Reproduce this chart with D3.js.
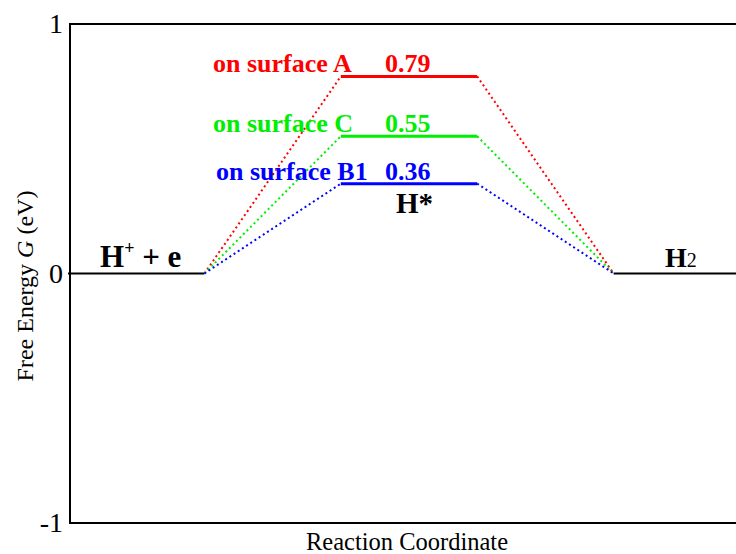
<!DOCTYPE html>
<html>
<head>
<meta charset="utf-8">
<script src="https://d3js.org/d3.v7.min.js"></script>
<style>
  body { margin: 0; background: #fff; }
  text { font-family: "Liberation Serif", "Times New Roman", serif; }
</style>
</head>
<body>
<script>
// reaction steps and energies (eV)
const steps = ["H+ + e", "H*", "H2"];
const surfaces = ["on surface A", "on surface C", "on surface B1"];
const hEnergies = [0.79, 0.55, 0.36];
const yTicks = [-1, 0, 1];
const colors = ["#ff0000", "#00ee00", "#0000ff"];

const W = 736, H = 554;
const margin = { top: 24, right: -2, bottom: 31, left: 70 };

const svg = d3.select("body").append("svg")
    .attr("width", W)
    .attr("height", H);

// x in "level slots": each level is one unit wide, gaps one unit
const x = d3.scaleLinear().domain([0, 5]).range([68, 750]);
const y = d3.scaleLinear().domain([-1, 1]).range([H - margin.bottom, margin.top]);

// frame (top, left, bottom)
svg.append("path")
    .attr("d", `M${W + 5},${y(1)}H${margin.left}V${y(-1)}H${W + 5}`)
    .attr("fill", "none")
    .attr("stroke", "#000")
    .attr("stroke-width", 2);

// y tick labels
svg.selectAll(".ytick")
    .data(yTicks)
    .join("text")
    .attr("class", "ytick")
    .attr("x", margin.left - 7)
    .attr("y", d => y(d) + 9)
    .attr("text-anchor", "end")
    .attr("font-size", 28)
    .text(d => d);

// axis titles
svg.append("text")
    .attr("x", 407)
    .attr("y", 550)
    .attr("text-anchor", "middle")
    .attr("font-size", 24.5)
    .text("Reaction Coordinate");

const yl = svg.append("text")
    .attr("transform", "translate(33,286) rotate(-90)")
    .attr("text-anchor", "middle")
    .attr("font-size", 24);
yl.append("tspan").text("Free Energy ");
yl.append("tspan").attr("font-style", "italic").text("G");
yl.append("tspan").text(" (eV)");

// initial and final levels (0 eV)
const ends = [[0, 1], [4, 5.2]];
svg.selectAll(".endlvl")
    .data(ends)
    .join("line")
    .attr("class", "endlvl")
    .attr("x1", d => x(d[0]))
    .attr("x2", d => x(d[1]))
    .attr("y1", y(0))
    .attr("y2", y(0))
    .attr("stroke", "#000")
    .attr("stroke-width", 2);

// dotted connectors
const conn = d3.line().x(d => x(d[0])).y(d => y(d[1]));
hEnergies.forEach((e, i) => {
    svg.append("path")
        .attr("d", conn([[1, 0], [2, e]]))
        .attr("fill", "none")
        .attr("stroke", colors[i])
        .attr("stroke-width", 2)
        .attr("stroke-dasharray", "2,3");
    svg.append("path")
        .attr("d", conn([[3, e], [4, 0]]))
        .attr("fill", "none")
        .attr("stroke", colors[i])
        .attr("stroke-width", 2)
        .attr("stroke-dasharray", "2,3");
});

// H* levels
svg.selectAll(".hlvl")
    .data(hEnergies)
    .join("line")
    .attr("class", "hlvl")
    .attr("x1", x(2))
    .attr("x2", x(3))
    .attr("y1", d => y(d))
    .attr("y2", d => y(d))
    .attr("stroke", (d, i) => colors[i])
    .attr("stroke-width", 3);

// surface labels and values
svg.selectAll(".slabel")
    .data(surfaces)
    .join("text")
    .attr("class", "slabel")
    .attr("x", (d, i) => i === 2 ? 216 : 213)
    .attr("y", (d, i) => y(hEnergies[i]) - 4)
    .attr("font-size", 26)
    .attr("font-weight", "bold")
    .attr("fill", (d, i) => colors[i])
    .text(d => d);

svg.selectAll(".sval")
    .data(hEnergies)
    .join("text")
    .attr("class", "sval")
    .attr("x", 385)
    .attr("y", d => y(d) - 4)
    .attr("font-size", 26)
    .attr("font-weight", "bold")
    .attr("fill", (d, i) => colors[i])
    .text(d => d.toFixed(2));

// step labels
const t0 = svg.append("text")
    .attr("x", 100).attr("y", 267)
    .attr("font-size", 31).attr("font-weight", "bold");
t0.append("tspan").text("H");
t0.append("tspan").attr("font-size", 18).attr("dy", -13).text("+");
t0.append("tspan").attr("dy", 13).text(" + e");

svg.append("text")
    .attr("x", 396).attr("y", 213)
    .attr("font-size", 29).attr("font-weight", "bold")
    .text(steps[1]);

const t2 = svg.append("text")
    .attr("x", 665).attr("y", 267)
    .attr("font-size", 28).attr("font-weight", "bold");
t2.append("tspan").text("H");
t2.append("tspan").attr("font-size", 20).attr("font-weight", "normal").text("2");
</script>
</body>
</html>
